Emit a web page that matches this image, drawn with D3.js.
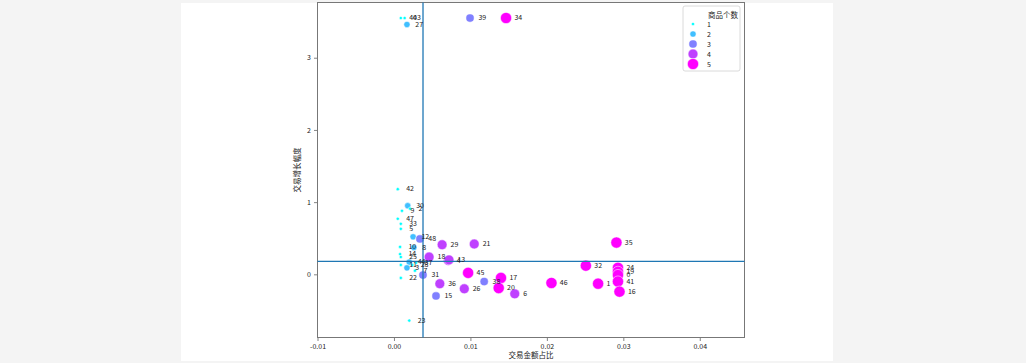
<!DOCTYPE html>
<html>
<head>
<meta charset="utf-8">
<script src="https://cdn.jsdelivr.net/npm/d3@7"></script>
<style>
  body { margin: 0; background: #f4f4f4; }
  text { font-family: "Noto Sans CJK SC", "DejaVu Sans", sans-serif; fill: #222; }
</style>
</head>
<body>
<div id="chart"></div>
<script>
// row labels of the points
const labels = [40, 43, 27, 39, 34,
  42, 30, 2, 9, 47, 33, 5, 12, 48, 10, 8, 14, 25, 44, 28, 37, 3, 11, 7, 22, 31, 23,
  18, 4, 13, 29, 21, 36, 15, 45, 26, 38, 17, 20, 6, 46,
  35, 32, 24, 19, 0, 41, 1, 16];
// 交易金额占比
const share = [0.0009, 0.0014, 0.0017, 0.00995, 0.01466,
  0.0005, 0.0018, 0.0021, 0.00105, 0.0005, 0.0009, 0.0009, 0.0025, 0.0034, 0.0008, 0.0026, 0.0008, 0.0009, 0.002, 0.0024, 0.0029, 0.0017, 0.0009, 0.00275, 0.0009, 0.0038, 0.002,
  0.0046, 0.0071, 0.0072, 0.0063, 0.0105, 0.006, 0.0055, 0.0097, 0.0092, 0.0118, 0.014, 0.0137, 0.0158, 0.0206,
  0.0291, 0.0251, 0.0293, 0.0293, 0.0293, 0.0293, 0.0267, 0.0295];
// 交易增长幅度
const growth = [3.55, 3.55, 3.46, 3.55, 3.55,
  1.18, 0.95, 0.91, 0.88, 0.77, 0.70, 0.63, 0.52, 0.49, 0.38, 0.37, 0.28, 0.24, 0.17, 0.13, 0.16, 0.09, 0.13, 0.05, -0.05, -0.01, -0.64,
  0.24, 0.19, 0.2, 0.41, 0.42, -0.13, -0.30, 0.02, -0.20, -0.10, -0.05, -0.19, -0.27, -0.12,
  0.44, 0.12, 0.09, 0.035, -0.01, -0.10, -0.13, -0.24];
// 商品个数
const itemCount = [1, 1, 2, 3, 5,
  1, 2, 1, 1, 1, 1, 1, 2, 3, 1, 2, 1, 1, 2, 1, 1, 2, 1, 1, 1, 3, 1,
  4, 4, 4, 4, 4, 4, 3, 5, 4, 3, 5, 5, 4, 5,
  5, 5, 5, 5, 5, 5, 5, 5];

const countLevels = [1, 2, 3, 4, 5];
const xTicks = [-0.01, 0, 0.01, 0.02, 0.03, 0.04];
const yTicks = [0, 1, 2, 3];
const shareRef = 0.0038;
const growthRef = 0.18;

class ScatterChart {

  constructor() {
    this.width = 1026;
    this.height = 363;
    this.plot = { left: 317.5, right: 744.5, top: 2.5, bottom: 337.5 };

    this.svg = d3.select("#chart").append("svg")
      .attr("width", this.width)
      .attr("height", this.height);

    // white figure area on the grey page
    this.svg.append("rect")
      .attr("x", 181).attr("y", 3)
      .attr("width", 652).attr("height", 358)
      .attr("fill", "#ffffff");

    this.x = d3.scaleLinear().domain([-0.01, 0.04585]).range([this.plot.left, this.plot.right]);
    this.y = d3.scaleLinear().domain([-0.875, 3.765]).range([this.plot.bottom, this.plot.top]);
    this.color = d3.scaleLinear().domain([1, 5]).range(["#00ffff", "#ff00ff"]);
    // marker area grows linearly with the count
    let area = d3.scaleLinear().domain([1, 5]).range([Math.PI * 1.6 * 1.6, Math.PI * 5.6 * 5.6]);
    this.radius = d => Math.sqrt(area(d) / Math.PI);
  }

  update() {
    let self = this;
    let data = labels.map((l, i) => ({
      label: l, share: share[i], growth: growth[i], count: itemCount[i]
    }));

    //axes
    let fmt = d => d3.format(".2f")(d).replace("\u2212", "-");
    let xAxis = d3.axisBottom(this.x).tickValues(xTicks).tickFormat(fmt).tickSize(3.5).tickPadding(3);
    let yAxis = d3.axisLeft(this.y).tickValues(yTicks).tickFormat(d3.format("d")).tickSize(3.5).tickPadding(3);

    let gx = this.svg.append("g")
      .attr("transform", "translate(0," + this.plot.bottom + ")")
      .call(xAxis);
    let gy = this.svg.append("g")
      .attr("transform", "translate(" + this.plot.left + ",0)")
      .call(yAxis);
    [gx, gy].forEach(g => {
      g.select(".domain").remove();
      g.selectAll("line").attr("stroke", "#666").attr("stroke-width", 0.8);
      g.selectAll("text").attr("font-size", 7).attr("fill", "#222")
        .style("font-family", "'Noto Sans CJK SC', sans-serif");
    });

    // frame
    this.svg.append("rect")
      .attr("x", this.plot.left).attr("y", this.plot.top)
      .attr("width", this.plot.right - this.plot.left)
      .attr("height", this.plot.bottom - this.plot.top)
      .attr("fill", "none").attr("stroke", "#777").attr("stroke-width", 1);

    //points
    this.svg.append("g").selectAll("circle")
      .data(data)
      .enter().append("circle")
      .attr("cx", d => self.x(d.share))
      .attr("cy", d => self.y(d.growth))
      .attr("r", d => self.radius(d.count))
      .attr("fill", d => self.color(d.count))
      .attr("stroke", "#ffffff")
      .attr("stroke-width", 0.5);

    //reference lines
    let rx = this.x(shareRef);
    let ry = this.y(growthRef);
    this.svg.append("line")
      .attr("x1", rx).attr("x2", rx)
      .attr("y1", this.plot.top).attr("y2", this.plot.bottom)
      .attr("stroke", "#1f77b4").attr("stroke-width", 1.3);
    this.svg.append("line")
      .attr("x1", this.plot.left).attr("x2", this.plot.right)
      .attr("y1", ry).attr("y2", ry)
      .attr("stroke", "#1f77b4").attr("stroke-width", 1.3);

    //point labels
    this.svg.append("g").selectAll("text")
      .data(data)
      .enter().append("text")
      .attr("x", d => self.x(d.share + 0.0011))
      .attr("y", d => self.y(d.growth) + 2)
      .attr("font-size", 7)
      .text(d => d.label);

    // axis titles
    this.svg.append("text")
      .attr("x", (this.plot.left + this.plot.right) / 2)
      .attr("y", 358)
      .attr("text-anchor", "middle")
      .attr("font-size", 7.5)
      .text("交易金额占比");
    this.svg.append("text")
      .attr("transform", "translate(300," + (this.plot.top + this.plot.bottom) / 2 + ") rotate(-90)")
      .attr("text-anchor", "middle")
      .attr("font-size", 7.5)
      .text("交易增长幅度");

    this.legend();
  }

  legend() {
    let self = this;
    let lg = this.svg.append("g").attr("transform", "translate(683,6)");
    lg.append("rect")
      .attr("width", 57).attr("height", 65)
      .attr("rx", 2)
      .attr("fill", "#ffffff").attr("fill-opacity", 0.8)
      .attr("stroke", "#d0d0d0").attr("stroke-width", 0.8);
    lg.append("text")
      .attr("x", 40).attr("y", 11.5)
      .attr("text-anchor", "middle")
      .attr("font-size", 7.5)
      .text("商品个数");
    let item = lg.selectAll("g.item")
      .data(countLevels)
      .enter().append("g")
      .attr("class", "item")
      .attr("transform", (d, i) => "translate(10," + (18 + i * 10) + ")");
    item.append("circle")
      .attr("r", d => self.radius(d))
      .attr("fill", d => self.color(d))
      .attr("stroke", "#ffffff").attr("stroke-width", 0.5);
    item.append("text")
      .attr("x", 14).attr("y", 2.5)
      .attr("font-size", 7)
      .text(d => d);
  }
}

let chart = new ScatterChart();
chart.update();
</script>
</body>
</html>
